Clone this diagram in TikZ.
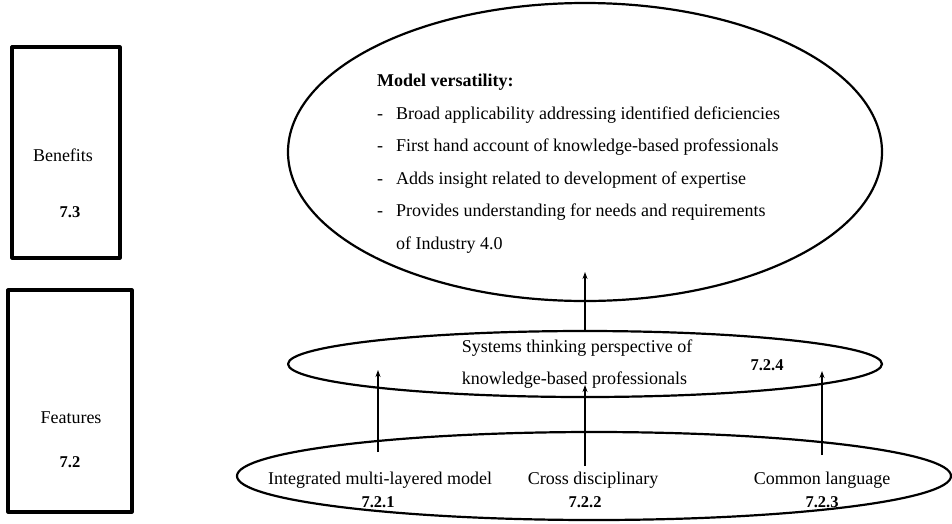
\documentclass[tikz,border=0pt]{standalone}
\usepackage{fontspec}
\setmainfont{Liberation Serif}
\usetikzlibrary{shapes.geometric,arrows.meta}
\begin{document}
\begin{tikzpicture}[x=1pt, y=-1pt, font=\fontsize{18}{32.5}\selectfont, line join=round, >={Stealth[length=7pt,width=5pt]},
	secbox/.style={draw, line width=3.2pt, inner sep=0pt},
	bubble/.style={draw, ellipse, line width=2.2pt, inner sep=0pt},
	num/.style={font=\fontsize{16.5}{20}\selectfont\bfseries, inner sep=0pt},
	lbl/.style={inner sep=0pt},
	arr/.style={->, line width=1.4pt}]
	\useasboundingbox (0,0) rectangle (952,523);
	% section boxes on the left
	\node[secbox, minimum width=108, minimum height=211] (benefits) at (66,152.5) {};
	\node[lbl] (benefitsT) at (63,155) {Benefits};
	\node[num] (n73) at (70,212) {7.3};
	\node[secbox, minimum width=124, minimum height=222] (features) at (70,401) {};
	\node[lbl] (featuresT) at (71,418) {Features};
	\node[num] (n72) at (70,462) {7.2};
	% the three ellipses
	\node[bubble, minimum width=594, minimum height=298] (top) at (585,152) {};
	\node[bubble, minimum width=594, minimum height=66] (mid) at (585,364) {};
	\node[bubble, minimum width=714, minimum height=88] (bot) at (594,476) {};
	% benefits text
	\node[lbl, anchor=north west] (vers) at (377,64) {\begin{tabular}{@{}l@{\hspace{13pt}}l@{}}
		\multicolumn{2}{@{}l}{\textbf{Model versatility:}}\\
		-& Broad applicability addressing identified deficiencies\\
		-& First hand account of knowledge-based professionals\\
		-& Adds insight related to development of expertise\\
		-& Provides understanding for needs and requirements\\
		& of Industry 4.0
	\end{tabular}};
	% features text
	\node[lbl, align=left] (systems) at (577,364) {Systems thinking perspective of\\knowledge-based professionals};
	\node[num] (n724) at (767,365) {7.2.4};
	\node[lbl] (integ) at (380,480) {Integrated multi-layered model};
	\node[num] (n721) at (378,502) {7.2.1};
	\node[lbl] (cross) at (593,480) {Cross disciplinary};
	\node[num] (n722) at (585,502) {7.2.2};
	\node[lbl] (common) at (822,480) {Common language};
	\node[num] (n723) at (822,502) {7.2.3};
	% arrows
	\coordinate (up0) at (585,272);
	\coordinate (s1) at (378,452);
	\coordinate (t1) at (378,370);
	\coordinate (s2) at (585,466);
	\coordinate (t2) at (585,385);
	\coordinate (s3) at (822,455);
	\coordinate (t3) at (822,371);
	\draw[arr] (mid.north) -- (up0);
	\draw[arr] (s1) -- (t1);
	\draw[arr] (s2) -- (t2);
	\draw[arr] (s3) -- (t3);
\end{tikzpicture}
\end{document}
